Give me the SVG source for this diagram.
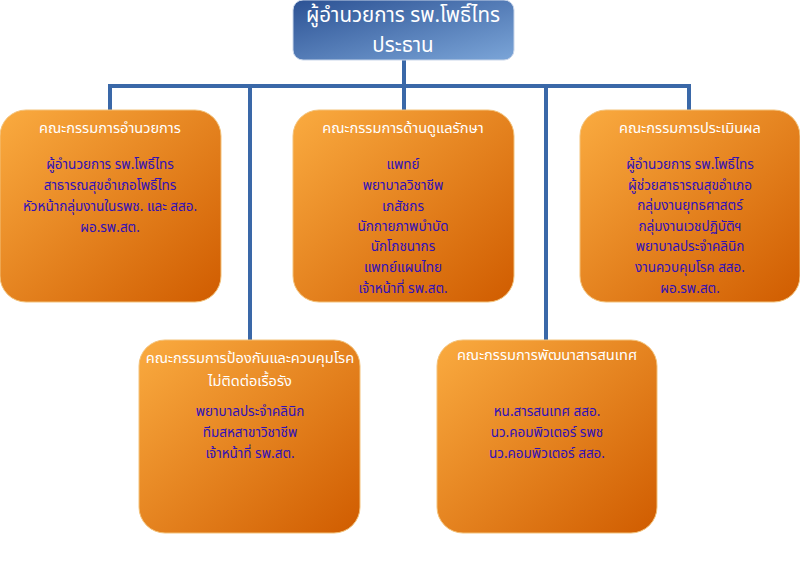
<svg xmlns="http://www.w3.org/2000/svg" width="800" height="566" viewBox="0 0 800 566">
<defs>
<linearGradient id="og" x1="0" y1="0" x2="1" y2="1">
<stop offset="0" stop-color="#faab40"/>
<stop offset="1" stop-color="#d05c00"/>
</linearGradient>
<linearGradient id="bg" x1="0" y1="0" x2="1" y2="1">
<stop offset="0" stop-color="#2c5294"/>
<stop offset="1" stop-color="#7ba5d8"/>
</linearGradient>
<style>
.box{fill:url(#og);stroke:#f3c27a;stroke-width:1}
.head{fill:url(#bg);stroke:#c9d6ea;stroke-width:1}
text{font-family:"Noto Sans Thai","Noto Sans","Tahoma","DejaVu Sans",sans-serif;text-anchor:middle}
.t{fill:#ffffff;font-size:14.6px}
.b{fill:#3010b8;font-size:13.5px}
.h{fill:#ffffff;font-size:20.5px}
.c{fill:none;stroke:#3a68a8;stroke-width:4}
</style>
</defs>
<g id="connectors">
<path class="c" d="M404 60V86M110 112V86H689V112M404 86V112M250 86V342M546 86V342"/>
</g>
<g id="n0">
<rect class="head" x="293" y="0" width="221" height="60" rx="10"/>
<text class="h" x="403" y="22">ผู้อำนวยการ รพ.โพธิ์ไทร</text>
<text class="h" x="403" y="52">ประธาน</text>
</g>
<g id="n1">
<rect class="box" x="0" y="110" width="221" height="192" rx="26"/>
<text class="t" x="110" y="133">คณะกรรมการอำนวยการ</text>
<text class="b" x="110" y="169">ผู้อำนวยการ รพ.โพธิ์ไทร</text>
<text class="b" x="110" y="190">สาธารณสุขอำเภอโพธิ์ไทร</text>
<text class="b" x="110" y="211">หัวหน้ากลุ่มงานในรพช. และ สสอ.</text>
<text class="b" x="110" y="232">ผอ.รพ.สต.</text>
</g>
<g id="n2">
<rect class="box" x="293" y="110" width="221" height="192" rx="26"/>
<text class="t" x="403" y="133">คณะกรรมการด้านดูแลรักษา</text>
<text class="b" x="403" y="169">แพทย์</text>
<text class="b" x="403" y="190">พยาบาลวิชาชีพ</text>
<text class="b" x="403" y="211">เภสัชกร</text>
<text class="b" x="403" y="231">นักกายภาพบำบัด</text>
<text class="b" x="403" y="251">นักโภชนากร</text>
<text class="b" x="403" y="272">แพทย์แผนไทย</text>
<text class="b" x="403" y="293">เจ้าหน้าที่ รพ.สต.</text>
</g>
<g id="n3">
<rect class="box" x="580" y="110" width="220" height="192" rx="26"/>
<text class="t" x="690" y="133">คณะกรรมการประเมินผล</text>
<text class="b" x="690" y="169">ผู้อำนวยการ รพ.โพธิ์ไทร</text>
<text class="b" x="690" y="190">ผู้ช่วยสาธารณสุขอำเภอ</text>
<text class="b" x="690" y="210">กลุ่มงานยุทธศาสตร์</text>
<text class="b" x="690" y="231">กลุ่มงานเวชปฏิบัติฯ</text>
<text class="b" x="690" y="251">พยาบาลประจำคลินิก</text>
<text class="b" x="690" y="272">งานควบคุมโรค สสอ.</text>
<text class="b" x="690" y="293">ผอ.รพ.สต.</text>
</g>
<g id="n4">
<rect class="box" x="139" y="340" width="221" height="193" rx="26"/>
<text class="t" x="250" y="363">คณะกรรมการป้องกันและควบคุมโรค</text>
<text class="t" x="250" y="386">ไม่ติดต่อเรื้อรัง</text>
<text class="b" x="250" y="416">พยาบาลประจำคลินิก</text>
<text class="b" x="250" y="437">ทีมสหสาขาวิชาชีพ</text>
<text class="b" x="250" y="458">เจ้าหน้าที่ รพ.สต.</text>
</g>
<g id="n5">
<rect class="box" x="437" y="340" width="220" height="193" rx="26"/>
<text class="t" x="547" y="360">คณะกรรมการพัฒนาสารสนเทศ</text>
<text class="b" x="547" y="416">หน.สารสนเทศ สสอ.</text>
<text class="b" x="547" y="437">นว.คอมพิวเตอร์ รพช</text>
<text class="b" x="547" y="458">นว.คอมพิวเตอร์ สสอ.</text>
</g>
</svg>
